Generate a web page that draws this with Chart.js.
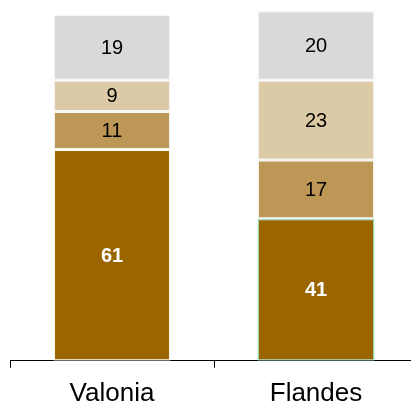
<!DOCTYPE html>
<html>
<head>
<meta charset="utf-8">
<script src="https://cdn.jsdelivr.net/npm/chart.js@4"></script>
<style>
  html, body { margin: 0; padding: 0; background: #fff; overflow: hidden; }
  #wrap { position: relative; width: 418px; height: 419px; }
</style>
</head>
<body>
<div id="wrap"><canvas id="chart"></canvas></div>
<script>
// values
const regions = ["Valonia", "Flandes"];
const seg1 = [61, 41];
const seg2 = [11, 17];
const seg3 = [9, 23];
const seg4 = [19, 20];

const colors = ["#9b6600", "#bc9756", "#dccaa6", "#d9d9d9"];

// draws the number in the middle of each segment
const segLabels = {
  id: "segLabels",
  afterDatasetsDraw(chart) {
    const ctx = chart.ctx;
    ctx.save();
    ctx.textAlign = "center";
    ctx.textBaseline = "middle";
    chart.data.datasets.forEach((ds, i) => {
      const meta = chart.getDatasetMeta(i);
      meta.data.forEach((bar, j) => {
        const y = (bar.y + bar.base) / 2;
        if (i === 0) {
          ctx.fillStyle = "#ffffff";
          ctx.font = "bold 20px 'Liberation Sans', Arial, sans-serif";
        } else {
          ctx.fillStyle = "#000000";
          ctx.font = "20px 'Liberation Sans', Arial, sans-serif";
        }
        ctx.fillText(String(ds.data[j]), bar.x, y + 1);
      });
    });
    ctx.restore();
  }
};

function mk(data, i) {
  return {
    data: data,
    backgroundColor: colors[i],
    borderColor: i === 0 ? ["#ffffff", "#9edcc2"] : "#f4f4f4",
    borderWidth: 1.5,
    borderSkipped: false,
    categoryPercentage: 1,
    barPercentage: 0.574
  };
}

new Chart(document.getElementById("chart"), {
  type: "bar",
  data: {
    labels: regions,
    datasets: [mk(seg1, 0), mk(seg2, 1), mk(seg3, 2), mk(seg4, 3)]
  },
  options: {
    responsive: true,
    maintainAspectRatio: false,
    animation: false,
    layout: { padding: { left: 10, right: 0, top: 11, bottom: 0 } },
    plugins: { legend: { display: false }, tooltip: { enabled: false } },
    scales: {
      x: {
        stacked: true,
        offset: true,
        grid: {
          offset: true,
          drawOnChartArea: false,
          drawTicks: true,
          tickLength: 7,
          color: "#000000"
        },
        border: { display: true, color: "#000000", width: 1 },
        ticks: {
          color: "#000000",
          padding: 10,
          font: { size: 26, family: "'Liberation Sans', Arial, sans-serif" }
        }
      },
      y: {
        stacked: true,
        display: false,
        min: 0,
        max: 101
      }
    }
  },
  plugins: [segLabels]
});
</script>
</body>
</html>
